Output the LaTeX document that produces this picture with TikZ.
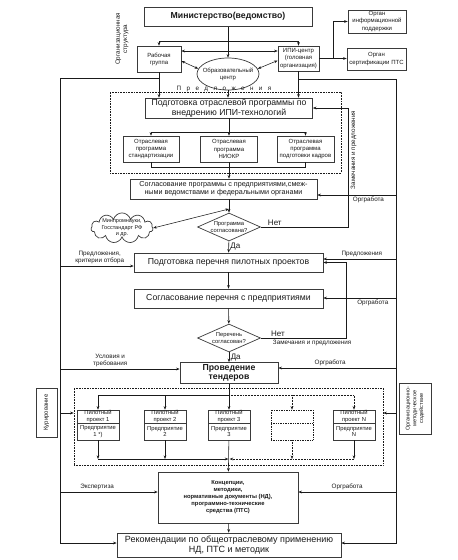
\documentclass[tikz,border=0pt]{standalone}
\usepackage{fontspec}
\setmainfont{Liberation Sans}
\usetikzlibrary{positioning,arrows.meta,calc,shapes.geometric,shapes.symbols}
\definecolor{ink}{HTML}{1A1A1A}
\definecolor{edge}{HTML}{3A3A3A}
\newcommand\lsp{\hspace{5.4pt}}
\tikzset{
  blk/.style  = {draw=edge, line width=0.7pt, align=center, text=ink, inner sep=1pt, fill=white},
  big/.style  = {blk, font=\fontsize{8.7}{9.5}\selectfont},
  mid/.style  = {blk, font=\fontsize{7.2}{8.4}\selectfont},
  sml/.style  = {blk, font=\fontsize{6}{7.1}\selectfont},
  pbox/.style = {blk, minimum width=42pt, inner sep=0pt, font=\fontsize{5.8}{6.4}\selectfont},
  dia/.style  = {blk, diamond, aspect=2.2, inner sep=0pt, font=\fontsize{5.8}{6.8}\selectfont},
  lab/.style  = {font=\fontsize{6.3}{7.4}\selectfont, text=ink, align=center, inner sep=1.5pt},
  yn/.style   = {font=\fontsize{8}{9}\selectfont, text=ink, inner sep=1.5pt},
  ar/.style   = {-{Stealth[length=3.6pt,width=2.8pt]}, line width=0.55pt, draw=ink},
  arr/.style  = {{Stealth[length=3.6pt,width=2.8pt]}-{Stealth[length=3.6pt,width=2.8pt]}, line width=0.55pt, draw=ink},
  ln/.style   = {line width=0.55pt, draw=ink},
  dots/.style = {densely dotted, line width=0.6pt, draw=ink},
}

\begin{document}
\begin{tikzpicture}[x=1pt,y=-1pt]
  \useasboundingbox (0,0) rectangle (458,560);

  % organisational structure
  \node[blk, line width=1pt, minimum width=168pt, minimum height=19pt,
        font=\fontsize{8.7}{10}\selectfont\bfseries] (min) at (228,16.5) {Министерство(ведомство)};
  \node[sml, minimum width=58pt, minimum height=23pt] (oip) at (377,21.5) {Орган\\информационной\\поддержки};
  \node[sml, minimum width=59pt, minimum height=22pt] (osp) at (376.5,59) {Орган\\сертификации ПТС};
  \node[sml, minimum width=41pt, minimum height=25pt, inner xsep=0.5pt] (ipi) at (298.5,58.5) {ИПИ-центр\\(головная\\организация)};
  \node[sml, minimum width=44pt, minimum height=26pt] (rg) at (159,59) {Рабочая\\группа};
  \node[sml, ellipse, minimum width=62pt, minimum height=32pt, inner xsep=-10pt, inner ysep=0pt] (obc) at (228,74) {Образовательный\\центр};
  \node[lab, rotate=90] (ostr) at (122,39) {Организационная\\структура};

  \coordinate (j1) at (228,41);
  \coordinate (j2) at (228,51);
  \draw[ar] (min) -- (obc);
  \draw[ar] (j1) -| (rg.north);
  \draw[ar] (j1) -| (ipi.north);
  \draw[arr] (j2 -| rg.east) -- (j2 -| ipi.west);
  \draw[arr] ([yshift=-2pt]rg.east) -- (obc.170);
  \draw[arr] ([yshift=-2pt]ipi.west) -- (obc.10);

  \coordinate (jo) at (333,58.5);
  \draw[ar] (ipi.east) -- (ipi.east -| osp.west);
  \draw[ar] (jo) |- (oip.west);

  % branch programme
  \node[lab] (pred) at (224,88.5) {П\lsp р\lsp е\lsp д\lsp л\lsp о\lsp ж\lsp е\lsp н\lsp и\lsp я};
  \node[dots, minimum width=231pt, minimum height=81pt] (grp1) at (225.5,132.5) {};
  \node[big, minimum width=167pt, minimum height=20pt] (potr) at (229,108) {Подготовка отраслевой программы по\\внедрению ИПИ-технологий};
  \draw[ar] (rg) -- (rg |- potr.north);
  \draw[ar] (obc) -- (obc |- potr.north);
  \draw[ar] (ipi) -- (ipi |- potr.north);

  \node[sml, minimum width=56pt, minimum height=26pt, inner xsep=0.5pt] (np1) at (151,149) {Отраслевая\\программа\\стандартизации};
  \node[sml, minimum width=57pt, minimum height=26pt, inner xsep=0.5pt] (np2) at (229,149) {Отраслевая\\программа\\НИОКР};
  \node[sml, minimum width=57pt, minimum height=26pt, inner xsep=0.5pt] (np3) at (305.5,149) {Отраслевая\\программа\\подготовки кадров};
  \coordinate (j3) at (229,132);
  \draw[ar] (potr) -- (np2);
  \draw[ar] (j3) -| (np1.north);
  \draw[ar] (j3) -| (np3.north);
  \draw[ln] (np1.south) -- ++(0,5) -| (np3.south);

  \node[mid, minimum width=187pt, minimum height=20pt] (sogl) at (223.5,189) {Согласование программы с предприятиями,смеж-\\ными ведомствами и федеральными органами};
  \draw[ar] (np2) -- (np2 |- sogl.north);

  \node[dia, minimum width=63pt, minimum height=28pt] (dia1) at (229,227) {Программа\\согласована?};
  \node[sml, cloud, cloud puffs=11, aspect=2.2, minimum width=62pt, minimum height=30pt,
        inner xsep=-4pt, inner ysep=-2pt, font=\fontsize{5.5}{6.5}\selectfont] (cl) at (122,228) {Минпромнауки,\\Госстандарт РФ\\и др.};
  \coordinate (jc) at (229,209);
  \draw[ar] (np2 |- sogl.south) -- (dia1);
  \draw[arr] (cl.east) -- (jc);
  \coordinate (zr1) at (348,108);
  \draw[ar] (dia1.east) -| node[yn, pos=0.08, above] {Нет} (zr1) -- (zr1 -| potr.east);
  \node[lab, rotate=90] (zp1) at (353.5,150) {Замечания и предложения};

  % pilot projects
  \node[big, minimum width=189pt, minimum height=19pt] (ppp) at (228.5,262.5) {Подготовка перечня пилотных проектов};
  \node[big, minimum width=189pt, minimum height=19pt] (spp) at (228.5,298.5) {Согласование перечня с предприятиями};
  \node[dia, minimum width=63pt, minimum height=28pt] (dia2) at (229,338) {Перечень\\согласован?};
  \node[blk, minimum width=98pt, minimum height=21pt, font=\fontsize{8.7}{9.6}\selectfont\bfseries] (ten) at (229,373) {Проведение\\тендеров};

  \draw[ar] (dia1) -- (ppp) node[yn, pos=0.5, right] {Да};
  \draw[ar] (ppp) -- (spp);
  \draw[ar] (spp) -- (dia2);
  \draw[ar] (dia2) -- (ten) node[yn, pos=0.5, right] {Да};
  \draw[ar] (dia2.east) -| node[yn, pos=0.1, above] {Нет} node[lab, pos=0.3, below] {Замечания и предложения}
        ($(ppp.east)+(23,0)$) -- (ppp.east);

  \node[dots, minimum width=309pt, minimum height=77pt] (grp2) at (228.5,426.5) {};
  \node[pbox, minimum height=13pt] (pt1) at (98,416.5) {Пилотный\\проект 1};
  \node[pbox, minimum height=17pt] (pb1) at (98,431.5) {Предприятие\\1 *)};
  \node[pbox, minimum height=13pt] (pt2) at (165,416.5) {Пилотный\\проект 2};
  \node[pbox, minimum height=17pt] (pb2) at (165,431.5) {Предприятие\\2};
  \node[pbox, minimum height=13pt] (pt3) at (229,416.5) {Пилотный\\проект 3};
  \node[pbox, minimum height=17pt] (pb3) at (229,431.5) {Предприятие\\3};
  \node[pbox, dots, minimum height=13pt] (pt4) at (292,416.5) {};
  \node[pbox, dots, minimum height=17pt] (pb4) at (292,431.5) {};
  \node[pbox, minimum height=13pt] (ptN) at (354,416.5) {Пилотный\\проект N};
  \node[pbox, minimum height=17pt] (pbN) at (354,431.5) {Предприятие\\N};

  \coordinate (jt) at (229,395);
  \draw[ar] (ten) -- (pt3);
  \draw[ar] (jt) -| (pt1.north);
  \draw[ar] (jt -| pt2) -- (pt2.north);
  \draw[ar, dots] (jt) -| (ptN.north);
  \draw[ar, dots] (jt -| pt4) -- (pt4.north);

  \coordinate (jb) at (229,459);
  \draw[ar] (pb1.south) -- (pb1.south |- jb);
  \draw[ar] (pb2.south) -- (pb2.south |- jb);
  \draw[ar, dots] (pb4.south) -- (pb4.south |- jb);
  \draw[ar] (pbN.south) -- (pbN.south |- jb);
  \draw[ar] (pb1.south |- jb) -- ([xshift=-0.6pt]jb);
  \draw[ar, dots] (pbN.south |- jb) -- ([xshift=0.6pt]jb);

  \node[sml, rotate=90, minimum width=49pt, minimum height=21pt] (kur) at (46.5,412.5) {Курирование};
  \node[sml, rotate=90, minimum width=51pt, minimum height=32pt, font=\fontsize{5.5}{6.8}\selectfont] (oms) at (415,408.5) {Организационно-\\методическое\\содействие};

  % results
  \node[blk, minimum width=140pt, minimum height=51pt, font=\fontsize{5.8}{7}\selectfont\bfseries] (kon) at (228,497.5)
    {Концепции,\\методики,\\нормативные документы (НД),\\программно-технические\\средства (ПТС)};
  \node[blk, minimum width=224pt, minimum height=24pt, font=\fontsize{9}{10}\selectfont] (rek) at (229,545)
    {Рекомендации по общеотраслевому применению\\НД, ПТС и методик};
  \draw[ar] (pb3) -- (kon);
  \draw[ar] (kon) -- (rek);

  % side lines
  \coordinate (lt) at (60,78);
  \coordinate (lb) at (60,543);
  \coordinate (rt) at (396,79);
  \coordinate (rb) at (396,543);
  \draw[ar] (lt -| rg) -- (lt) -- (lb) -- (lb -| rek.west);
  \draw[ar] (rt -| ipi) -- (rt) -- (rb) -- (rb -| rek.east);

  \coordinate (l1) at (60,266);
  \coordinate (l2) at (60,369);
  \coordinate (l3) at (60,413);
  \coordinate (l4) at (60,492);
  \draw[ar] (l1) -- (l1 -| ppp.west) node[lab, pos=0.54, above] {Предложения,\\критерии отбора};
  \draw[ar] (l2) -- (l2 -| ten.west) node[lab, pos=0.42, above] {Условия и\\требования};
  \draw[ar] (l3) -- (l3 -| grp2.west);
  \draw[ar] (l4) -- (l4 -| kon.west) node[lab, pos=0.38, above] {Экспертиза};

  \coordinate (r1) at (396,195);
  \coordinate (r2) at (396,259);
  \coordinate (r3) at (396,298);
  \coordinate (r4) at (396,368);
  \coordinate (r5) at (396,413);
  \coordinate (r6) at (396,492);
  \draw[ar] (r1) -- (r1 -| sogl.east) node[lab, pos=0.35, below] {Оргработа};
  \draw[ar] (r2) -- (r2 -| ppp.east) node[lab, pos=0.47, above] {Предложения};
  \draw[ar] (r3) -- (r3 -| spp.east) node[lab, pos=0.32, below] {Оргработа};
  \draw[ar] (r4) -- (r4 -| ten.east) node[lab, pos=0.56, above] {Оргработа};
  \draw[ar] (r5) -- (r5 -| grp2.east);
  \draw[ar] (r6) -- (r6 -| kon.east) node[lab, pos=0.5, above] {Оргработа};
\end{tikzpicture}
\end{document}
